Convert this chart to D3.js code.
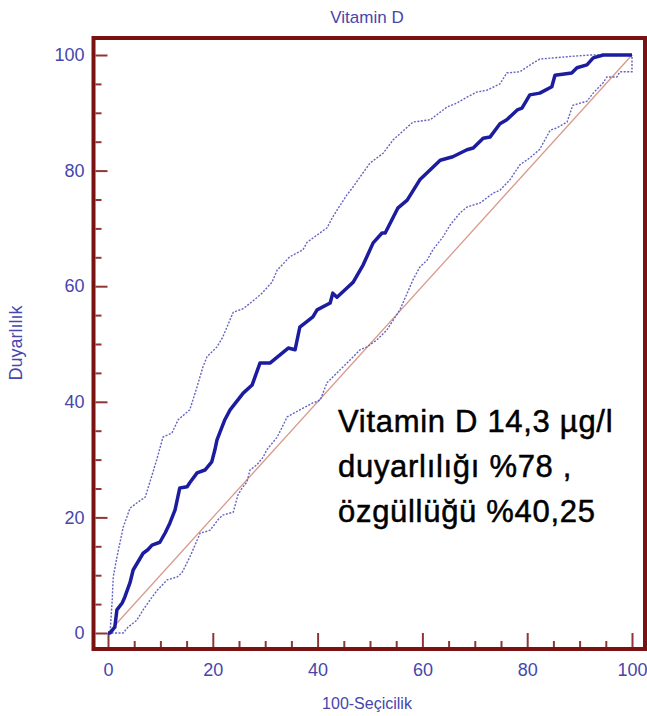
<!DOCTYPE html>
<html>
  <head>
    <meta charset="utf-8" />
    <title>Vitamin D ROC</title>
    <script src="https://d3js.org/d3.v7.min.js"></script>
    <style>
      body { margin: 0; background: #fff; }
      text { font-family: "Liberation Sans", Arial, sans-serif; }
    </style>
  </head>
  <body>
    <svg id="roc" width="647" height="716"></svg>

    <script>
      // ROC curve (100-specificity vs sensitivity)
      const rocX = [0, 0.4, 1.3, 1.7, 2.7, 3.2, 4.2, 4.8, 6.7, 7.6, 8.4, 9.9, 10.9, 11.8, 12.8, 13.7, 15.1, 15.6, 17.0, 18.5, 19.8, 20.4, 20.8, 22.3, 23.3, 25.8, 27.5, 29.0, 30.9, 34.4, 35.7, 36.6, 39.1, 39.9, 42.4, 42.9, 43.7, 45.6, 46.8, 48.7, 50.6, 52.3, 52.9, 55.3, 57.1, 59.5, 63.4, 65.8, 68.5, 69.7, 71.6, 72.9, 74.8, 76.1, 78.1, 79.0, 80.5, 82.4, 84.7, 85.3, 88.5, 89.5, 91.4, 92.6, 94.5, 100];
      const rocY = [0, 0, 1.0, 4.0, 5.2, 6.2, 8.7, 10.9, 13.8, 14.4, 15.2, 15.7, 17.3, 19.0, 21.3, 25.1, 25.3, 26.0, 27.7, 28.2, 29.6, 31.7, 33.4, 36.9, 38.6, 41.5, 42.9, 46.7, 46.7, 49.3, 49.0, 52.9, 54.7, 55.9, 57.1, 58.8, 58.1, 59.7, 60.7, 63.7, 67.5, 69.2, 69.2, 73.5, 74.9, 78.4, 81.8, 82.4, 83.6, 83.9, 85.6, 85.8, 88.1, 88.8, 90.5, 90.8, 93.1, 93.4, 94.5, 96.5, 96.9, 97.8, 98.3, 99.5, 100, 100];

      // upper confidence bound
      const upperX = [0, 0.4, 0.8, 1.0, 1.7, 2.9, 4.2, 5.5, 7.1, 8.4, 9.4, 10.5, 12.2, 13.4, 15.6, 17.0, 18.1, 18.9, 20.8, 21.9, 23.9, 25.8, 28.4, 29.4, 31.3, 32.3, 34.7, 37.2, 38.0, 41.8, 42.9, 44.3, 45.6, 46.8, 48.1, 50.0, 52.5, 54.4, 57.1, 58.2, 61.5, 64.7, 66.6, 68.5, 70.4, 72.3, 74.8, 76.1, 78.6, 81.1, 82.4, 87.6, 92.0, 100];
      const upperY = [0, 0, 5.7, 9.7, 13.1, 18.3, 21.6, 22.5, 23.5, 27.3, 30.3, 33.9, 34.6, 36.9, 38.6, 42.6, 46.0, 47.8, 49.5, 51.2, 55.5, 56.1, 58.0, 58.8, 60.7, 62.8, 65.1, 66.3, 67.6, 70.1, 72.0, 74.0, 75.8, 77.2, 78.9, 81.3, 83.0, 85.3, 87.5, 88.4, 88.8, 91.0, 91.7, 92.7, 93.6, 93.9, 95.0, 96.9, 97.1, 98.6, 99.3, 99.7, 100, 100];

      // lower confidence bound
      const lowerX = [0, 2.9, 3.8, 5.5, 6.7, 8.0, 9.4, 11.3, 13.2, 14.1, 15.6, 17.6, 18.5, 19.5, 21.0, 21.9, 23.9, 24.8, 25.6, 26.5, 27.1, 28.4, 29.6, 30.3, 32.3, 34.2, 36.6, 39.1, 40.5, 41.8, 43.7, 45.6, 48.1, 49.4, 51.3, 53.2, 54.2, 55.7, 57.1, 58.2, 59.5, 60.9, 62.0, 63.9, 65.3, 67.2, 68.5, 71.0, 73.5, 74.8, 76.7, 78.6, 80.5, 82.4, 84.4, 85.7, 87.6, 88.7, 91.4, 92.6, 94.5, 95.2, 97.1, 97.7, 100, 100];
      const lowerY = [0, 0, 1.0, 2.2, 4.0, 5.7, 7.4, 9.2, 9.7, 10.4, 13.1, 17.3, 17.5, 17.8, 19.6, 20.4, 20.9, 23.9, 25.1, 26.1, 28.2, 29.1, 30.4, 31.7, 33.9, 37.4, 38.6, 39.8, 40.3, 43.3, 45.0, 46.7, 49.0, 49.5, 50.7, 52.4, 53.8, 55.9, 58.8, 61.1, 63.3, 64.5, 66.3, 68.5, 70.6, 72.7, 73.7, 74.4, 76.1, 76.6, 78.4, 81.0, 82.2, 83.7, 87.0, 87.4, 88.4, 91.3, 92.0, 93.4, 95.2, 96.2, 96.2, 97.1, 97.1, 100];

      const majorTicks = [0, 20, 40, 60, 80, 100];
      const minorTicks = [5, 10, 15, 25, 30, 35, 45, 50, 55, 65, 70, 75, 85, 90, 95];

      const titleText = "Vitamin D";
      const xLabel = "100-Seçicilik";
      const yLabel = "Duyarlılık";
      const noteLines = ["Vitamin D 14,3 µg/l", "duyarlılığı %78 ,", "özgüllüğü %40,25"];

      const svg = d3.select("#roc");
      const frame = { left: 93.5, top: 38, right: 645, bottom: 649 };
      const frameColor = "#7a1212";
      const labelColor = "#4646ac";

      const x = d3.scaleLinear().domain([0, 100]).range([108, 632]);
      const y = d3.scaleLinear().domain([0, 100]).range([633, 55]);

      // plot frame
      svg.append("rect")
        .attr("x", frame.left)
        .attr("y", frame.top)
        .attr("width", frame.right - frame.left)
        .attr("height", frame.bottom - frame.top)
        .attr("fill", "none")
        .attr("stroke", frameColor)
        .attr("stroke-width", 4);

      // axes sit on the inner edge of the frame, ticks point inwards
      svg.append("g")
        .attr("transform", "translate(0," + (frame.bottom - 2) + ")")
        .call(d3.axisBottom(x).tickValues(majorTicks).tickSize(-14).tickPadding(16));
      svg.append("g")
        .attr("transform", "translate(0," + (frame.bottom - 2) + ")")
        .call(d3.axisBottom(x).tickValues(minorTicks).tickSize(-6).tickFormat(""));

      svg.append("g")
        .attr("transform", "translate(" + (frame.left + 2) + ",0)")
        .call(d3.axisLeft(y).tickValues(majorTicks).tickSize(-12).tickPadding(11));
      svg.append("g")
        .attr("transform", "translate(" + (frame.left + 2) + ",0)")
        .call(d3.axisLeft(y).tickValues(minorTicks).tickSize(-6).tickFormat(""));

      svg.selectAll(".domain").remove();
      svg.selectAll(".tick line")
        .attr("stroke", frameColor)
        .attr("stroke-width", 2)
        .attr("opacity", 0.85);
      svg.selectAll(".tick text")
        .attr("fill", labelColor)
        .style("font-size", "18px")
        .style("font-family", "'Liberation Sans', Arial, sans-serif");

      // diagonal reference line
      svg.append("line")
        .attr("x1", x(0)).attr("y1", y(0))
        .attr("x2", x(100)).attr("y2", y(100))
        .attr("stroke", "#d89a8c")
        .attr("stroke-width", 1.3);

      const line = d3.line().x((d) => x(d[0])).y((d) => y(d[1]));
      const zip = (a, b) => a.map((v, i) => [v, b[i]]);

      // confidence bands (dotted)
      [zip(upperX, upperY), zip(lowerX, lowerY)].forEach((pts) => {
        svg.append("path")
          .attr("d", line(pts))
          .attr("fill", "none")
          .attr("stroke", "#6464c0")
          .attr("stroke-width", 1.4)
          .attr("stroke-dasharray", "2,1.5");
      });

      // ROC curve
      svg.append("path")
        .attr("d", line(zip(rocX, rocY)))
        .attr("fill", "none")
        .attr("stroke", "#1c1c9e")
        .attr("stroke-width", 3.5)
        .attr("stroke-linejoin", "round");

      // titles
      svg.append("text")
        .attr("x", 367).attr("y", 23)
        .attr("text-anchor", "middle")
        .attr("fill", labelColor)
        .style("font-size", "17px")
        .text(titleText);

      svg.append("text")
        .attr("x", 367).attr("y", 709)
        .attr("text-anchor", "middle")
        .attr("fill", labelColor)
        .style("font-size", "16px")
        .text(xLabel);

      svg.append("text")
        .attr("transform", "translate(22,343) rotate(-90)")
        .attr("text-anchor", "middle")
        .attr("fill", labelColor)
        .style("font-size", "18px")
        .text(yLabel);

      // annotation
      svg.append("g")
        .selectAll("text")
        .data(noteLines)
        .join("text")
        .attr("x", 338)
        .attr("y", (d, i) => 432 + i * 45)
        .attr("fill", "#000")
        .attr("stroke", "#000")
        .attr("stroke-width", 0.5)
        .style("font-size", "31px")
        .style("letter-spacing", "0.7px")
        .text((d) => d);
    </script>
  </body>
</html>
